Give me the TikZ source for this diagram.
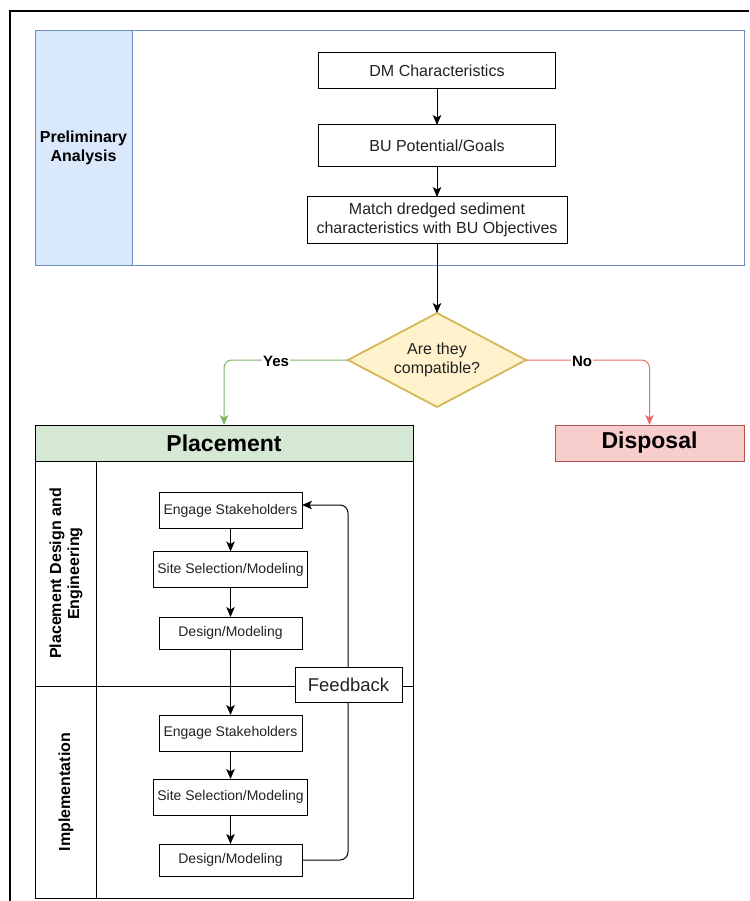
\documentclass[tikz,border=0pt]{standalone}
\usepackage{fontspec}
\setmainfont{Liberation Sans}
\usetikzlibrary{shapes.geometric,arrows.meta}
\definecolor{blueF}{HTML}{DAE8FC}
\definecolor{blueB}{HTML}{6C8EBF}
\definecolor{greenF}{HTML}{D5E8D4}
\definecolor{greenL}{HTML}{82B366}
\definecolor{redF}{HTML}{F8CECC}
\definecolor{redB}{HTML}{B85450}
\definecolor{redL}{HTML}{EA6B66}
\definecolor{yelF}{HTML}{FFF2CC}
\definecolor{yelB}{HTML}{D6B656}
\definecolor{txt}{HTML}{222222}
\tikzset{
  x=1pt, y=-1pt,
  every node/.style={inner sep=0pt, outer sep=0pt, text=txt},
  topbox/.style={draw=black, line width=1pt, fill=white, font=\fontsize{16}{19}\selectfont, align=center},
  inbox/.style={draw=black, line width=1pt, fill=white, font=\fontsize{14}{17}\selectfont},
  arr/.style={draw=black, line width=1pt, -{Stealth[length=10pt,width=8.5pt,inset=2.5pt]}},
  lbl/.style={fill=white, font=\bfseries\fontsize{15}{18}\selectfont, text=black, inner sep=1pt},
  lanelbl/.style={font=\bfseries\fontsize{16}{18}\selectfont, text=black, align=center},
  hdr/.style={font=\bfseries\fontsize{23}{27}\selectfont, text=black},
}
\begin{document}
\begin{tikzpicture}
\useasboundingbox (0,0) rectangle (749,901);
% outer frame
\draw[line width=1.5pt, black] (10,901) -- (10,11) -- (749,11);

% Preliminary analysis container
\node[draw=blueB, line width=1pt, fill=white, minimum width=709pt, minimum height=234pt, anchor=north west] (prelim) at (35,31) {};
\node[draw=blueB, line width=1pt, fill=blueF, minimum width=97pt, minimum height=234pt, anchor=north west, lanelbl] (prelimlane) at (35,31) {Preliminary\\[1pt]Analysis};

\node[topbox, minimum width=237pt, minimum height=36pt] (dm) at (437,71) {DM Characteristics};
\node[topbox, minimum width=237pt, minimum height=42pt] (bu) at (437,146) {BU Potential/Goals};
\node[topbox, minimum width=260pt, minimum height=46pt] (match) at (437,220) {Match dredged sediment\\characteristics with BU Objectives};
\node[diamond, shape aspect=2, draw=yelB, line width=1.8pt, fill=yelF, minimum width=178pt, minimum height=94pt, font=\fontsize{16}{19}\selectfont, align=center] (dec) at (437,360) {Are they\\compatible?};

\draw[arr] (dm) -- (bu);
\draw[arr] (bu) -- (match);
\draw[arr] (match) -- (dec);

% Placement container
\node[draw=black, line width=1pt, minimum width=378pt, minimum height=473pt, anchor=north west] (placement) at (35,425) {};
\node[draw=black, line width=1pt, fill=greenF, minimum width=378pt, minimum height=36pt, anchor=north west, hdr] (phdr) at (35,425) {Placement};
\node[draw=redB, line width=1pt, fill=redF, minimum width=189pt, minimum height=36pt, hdr] (disposal) at (649.5,443) {Disposal};

\coordinate (yesend) at (224,425);
\coordinate (noend) at (649.5,425);
\draw[greenL, line width=1pt, rounded corners=8pt, -{Stealth[length=10pt,width=8.5pt,inset=2.5pt]}] (dec.west) -| (yesend);
\draw[redL, line width=1pt, rounded corners=8pt, -{Stealth[length=10pt,width=8.5pt,inset=2.5pt]}] (dec.east) -| (noend);
\node[lbl] (yes) at (276,361) {Yes};
\node[lbl] (no) at (582,361) {No};

% lanes
\coordinate (laneL) at (35,686);
\coordinate (laneR) at (413,686);
\coordinate (divT) at (96,461);
\coordinate (divB) at (96,898);
\draw[black, line width=1pt] (divT) -- (divB);
\draw[black, line width=1pt] (laneL) -- (laneR);
\node[lanelbl, rotate=90] (lane1) at (66,573.5) {Placement Design and\\Engineering};
\node[lanelbl, rotate=90] (lane2) at (66,792) {Implementation};

% inner boxes
\node[inbox, minimum width=143pt, minimum height=36pt] (es1) at (230.5,510.5) {Engage Stakeholders};
\node[inbox, minimum width=154pt, minimum height=36pt] (ss1) at (230.5,569.5) {Site Selection/Modeling};
\node[inbox, minimum width=143pt, minimum height=32pt] (dm1) at (230.5,633) {Design/Modeling};
\node[inbox, minimum width=143pt, minimum height=36pt] (es2) at (230.5,733) {Engage Stakeholders};
\node[inbox, minimum width=154pt, minimum height=36pt] (ss2) at (230.5,797) {Site Selection/Modeling};
\node[inbox, minimum width=143pt, minimum height=32pt] (dm2) at (230.5,860) {Design/Modeling};

\draw[arr] (es1) -- (ss1);
\draw[arr] (ss1) -- (dm1);
\draw[arr] (dm1) -- (es2);
\draw[arr] (es2) -- (ss2);
\draw[arr] (ss2) -- (dm2);

% feedback loop
\coordinate (fbtop) at (348,505);
\coordinate (fbin) at (302,505);
\draw[arr, rounded corners=8pt] (dm2.east) -| (fbtop) -- (fbin);
\node[draw=black, line width=1pt, fill=white, minimum width=107pt, minimum height=35pt, font=\fontsize{18.5}{22}\selectfont] (feedback) at (348.5,684.5) {Feedback};
\end{tikzpicture}
\end{document}
